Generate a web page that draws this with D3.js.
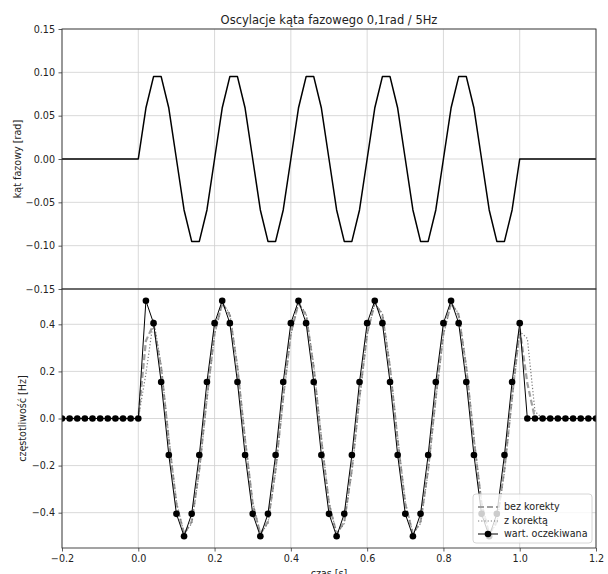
<!DOCTYPE html>
<html><head><meta charset="utf-8">
<script src="https://cdn.jsdelivr.net/npm/d3@7"></script>
<style>body{margin:0;background:#fff} svg{display:block} text{font-family:"DejaVu Sans",sans-serif;fill:#222}</style>
</head><body><svg id="c" width="608" height="574"></svg>
<script>
// ---- data ----
const time = [-0.2,-0.18,-0.16,-0.14,-0.12,-0.1,-0.08,-0.06,-0.04,-0.02,0,
0.02,0.04,0.06,0.08,0.1,0.12,0.14,0.16,0.18,0.2,
0.22,0.24,0.26,0.28,0.3,0.32,0.34,0.36,0.38,0.4,
0.42,0.44,0.46,0.48,0.5,0.52,0.54,0.56,0.58,0.6,
0.62,0.64,0.66,0.68,0.7,0.72,0.74,0.76,0.78,0.8,
0.82,0.84,0.86,0.88,0.9,0.92,0.94,0.96,0.98,1.0,
1.02,1.04,1.06,1.08,1.1,1.12,1.14,1.16,1.18,1.2];
const phase = [0,0,0,0,0,0,0,0,0,0,0,
0.0588,0.0951,0.0951,0.0588,0,-0.0588,-0.0951,-0.0951,-0.0588,0,
0.0588,0.0951,0.0951,0.0588,0,-0.0588,-0.0951,-0.0951,-0.0588,0,
0.0588,0.0951,0.0951,0.0588,0,-0.0588,-0.0951,-0.0951,-0.0588,0,
0.0588,0.0951,0.0951,0.0588,0,-0.0588,-0.0951,-0.0951,-0.0588,0,
0.0588,0.0951,0.0951,0.0588,0,-0.0588,-0.0951,-0.0951,-0.0588,0,
0,0,0,0,0,0,0,0,0,0];
const expected = [0,0,0,0,0,0,0,0,0,0,0,
0.5,0.405,0.155,-0.155,-0.405,-0.5,-0.405,-0.155,0.155,0.405,
0.5,0.405,0.155,-0.155,-0.405,-0.5,-0.405,-0.155,0.155,0.405,
0.5,0.405,0.155,-0.155,-0.405,-0.5,-0.405,-0.155,0.155,0.405,
0.5,0.405,0.155,-0.155,-0.405,-0.5,-0.405,-0.155,0.155,0.405,
0.5,0.405,0.155,-0.155,-0.405,-0.5,-0.405,-0.155,0.155,0.405,
0,0,0,0,0,0,0,0,0,0];
const bezKorekty = [0,0,0,0,0,0,0,0,0,0,0,
0.33,0.40,0.213,-0.094,-0.364,-0.49,-0.438,-0.213,0.094,0.364,
0.49,0.438,0.213,-0.094,-0.364,-0.49,-0.438,-0.213,0.094,0.364,
0.49,0.438,0.213,-0.094,-0.364,-0.49,-0.438,-0.213,0.094,0.364,
0.49,0.438,0.213,-0.094,-0.364,-0.49,-0.438,-0.213,0.094,0.364,
0.49,0.438,0.213,-0.094,-0.364,-0.49,-0.438,-0.213,0.094,0.38,
0.15,0,0,0,0,0,0,0,0,0];
const zKorekta = [0,0,0,0,0,0,0,0,0,0,0,
0.19,0.42,0.227,-0.078,-0.354,-0.49,-0.446,-0.227,0.078,0.354,
0.49,0.446,0.227,-0.078,-0.354,-0.49,-0.446,-0.227,0.078,0.354,
0.49,0.446,0.227,-0.078,-0.354,-0.49,-0.446,-0.227,0.078,0.354,
0.49,0.446,0.227,-0.078,-0.354,-0.49,-0.446,-0.227,0.078,0.354,
0.49,0.446,0.227,-0.078,-0.354,-0.49,-0.446,-0.227,0.078,0.37,
0.34,0.03,0,0,0,0,0,0,0,0];
const xTicks = [-0.2,0,0.2,0.4,0.6,0.8,1.0,1.2];
const topYTicks = [-0.15,-0.10,-0.05,0,0.05,0.10,0.15];
const botYTicks = [-0.4,-0.2,0,0.2,0.4];
const title = "Oscylacje kąta fazowego 0,1rad / 5Hz";
const topYLabel = "kąt fazowy [rad]";
const botYLabel = "częstotliwość [Hz]";
const xLabel = "czas [s]";
const legendLabels = ["bez korekty","z korektą","wart. oczekiwana"];

// ---- layout ----
const svg = d3.select("#c");
const L = 62, R = 596, T1 = 29, B1 = 289, T2 = 289, B2 = 548;
const x = d3.scaleLinear().domain([-0.2,1.2]).range([L,R]);
const y1 = d3.scaleLinear().domain([-0.15,0.15]).range([B1,T1]);
const y2 = d3.scaleLinear().domain([-0.55,0.55]).range([B2,T2]);
const gridC = "#cfcfcf", spineC = "#333";

const defs = svg.append("defs");
defs.append("clipPath").attr("id","c1").append("rect").attr("x",L).attr("y",T1).attr("width",R-L).attr("height",B1-T1);
defs.append("clipPath").attr("id","c2").append("rect").attr("x",L).attr("y",T2).attr("width",R-L).attr("height",B2-T2);

function grid(y, yt, top, bot){
  const g = svg.append("g");
  g.selectAll(".gx").data(xTicks).enter().append("line")
    .attr("x1",d=>x(d)).attr("x2",d=>x(d)).attr("y1",top).attr("y2",bot)
    .attr("stroke",gridC).attr("stroke-width",0.8);
  g.selectAll(".gy").data(yt).enter().append("line")
    .attr("x1",L).attr("x2",R).attr("y1",d=>y(d)).attr("y2",d=>y(d))
    .attr("stroke",gridC).attr("stroke-width",0.8);
}
grid(y1, topYTicks, T1, B1);
grid(y2, botYTicks, T2, B2);

function styleAxis(g){
  g.select(".domain").remove();
  g.selectAll(".tick line").attr("stroke",spineC).attr("stroke-width",0.8);
  g.selectAll(".tick text").attr("font-size","9.6px").attr("fill","#222").style("font-family",'"DejaVu Sans",sans-serif');
}
const ay1 = svg.append("g").attr("transform",`translate(${L},0)`)
  .call(d3.axisLeft(y1).tickValues(topYTicks).tickFormat(d3.format(".2f")).tickSize(3.5).tickPadding(3.5));
styleAxis(ay1);
const ay2 = svg.append("g").attr("transform",`translate(${L},0)`)
  .call(d3.axisLeft(y2).tickValues(botYTicks).tickFormat(d3.format(".1f")).tickSize(3.5).tickPadding(3.5));
styleAxis(ay2);
const ax = svg.append("g").attr("transform",`translate(0,${B2})`)
  .call(d3.axisBottom(x).tickValues(xTicks).tickFormat(d3.format(".1f")).tickSize(3.5).tickPadding(3.5));
styleAxis(ax);

// ---- top plot ----
const line1 = d3.line().x((d,i)=>x(time[i])).y(d=>y1(d));
svg.append("path").attr("clip-path","url(#c1)").datum(phase).attr("d",line1)
  .attr("fill","none").attr("stroke","#000").attr("stroke-width",1.5).attr("stroke-linejoin","round");

// ---- bottom plot ----
const line2 = d3.line().x((d,i)=>x(time[i])).y(d=>y2(d));
const p2 = svg.append("g").attr("clip-path","url(#c2)");
p2.append("path").datum(bezKorekty).attr("d",line2).attr("fill","none")
  .attr("stroke","#a0a0a0").attr("stroke-width",2.2).attr("stroke-dasharray","6,3");
p2.append("path").datum(zKorekta).attr("d",line2).attr("fill","none")
  .attr("stroke","#7a7a7a").attr("stroke-width",1.2).attr("stroke-dasharray","1.2,2");
p2.append("path").datum(expected).attr("d",line2).attr("fill","none")
  .attr("stroke","#000").attr("stroke-width",1);
p2.selectAll("circle").data(expected).enter().append("circle")
  .attr("cx",(d,i)=>x(time[i])).attr("cy",d=>y2(d)).attr("r",3.3).attr("fill","#000");

// spines
[[T1,B1],[T2,B2]].forEach(([t,b])=>{
  svg.append("rect").attr("x",L).attr("y",t).attr("width",R-L).attr("height",b-t)
    .attr("fill","none").attr("stroke",spineC).attr("stroke-width",0.9);
});

// ---- texts ----
svg.append("text").attr("x",(L+R)/2).attr("y",24).attr("text-anchor","middle")
  .attr("font-size","11.5px").text(title);
svg.append("text").attr("transform",`translate(21,${(T1+B1)/2}) rotate(-90)`)
  .attr("text-anchor","middle").attr("font-size","9.6px").text(topYLabel);
svg.append("text").attr("transform",`translate(26,${(T2+B2)/2}) rotate(-90)`)
  .attr("text-anchor","middle").attr("font-size","9.6px").text(botYLabel);
svg.append("text").attr("x",(L+R)/2).attr("y",577).attr("text-anchor","middle")
  .attr("font-size","9.6px").text(xLabel);

// ---- legend ----
const lg = svg.append("g");
lg.append("rect").attr("x",473).attr("y",494).attr("width",119).attr("height",49).attr("rx",3)
  .attr("fill","#fff").attr("fill-opacity",0.8).attr("stroke","#cccccc").attr("stroke-width",0.8);
const rows = [507,521,534];
lg.append("line").attr("x1",478).attr("x2",498).attr("y1",rows[0]).attr("y2",rows[0])
  .attr("stroke","#a0a0a0").attr("stroke-width",2.2).attr("stroke-dasharray","6,3");
lg.append("line").attr("x1",478).attr("x2",498).attr("y1",rows[1]).attr("y2",rows[1])
  .attr("stroke","#7a7a7a").attr("stroke-width",1.2).attr("stroke-dasharray","1.2,2");
lg.append("line").attr("x1",478).attr("x2",498).attr("y1",rows[2]).attr("y2",rows[2])
  .attr("stroke","#000").attr("stroke-width",1);
lg.append("circle").attr("cx",488).attr("cy",rows[2]).attr("r",3.3).attr("fill","#000");
lg.selectAll("text.l").data(legendLabels).enter().append("text")
  .attr("x",504).attr("y",(d,i)=>rows[i]).attr("dy","0.35em").attr("font-size","9.6px").text(d=>d);
</script></body></html>
